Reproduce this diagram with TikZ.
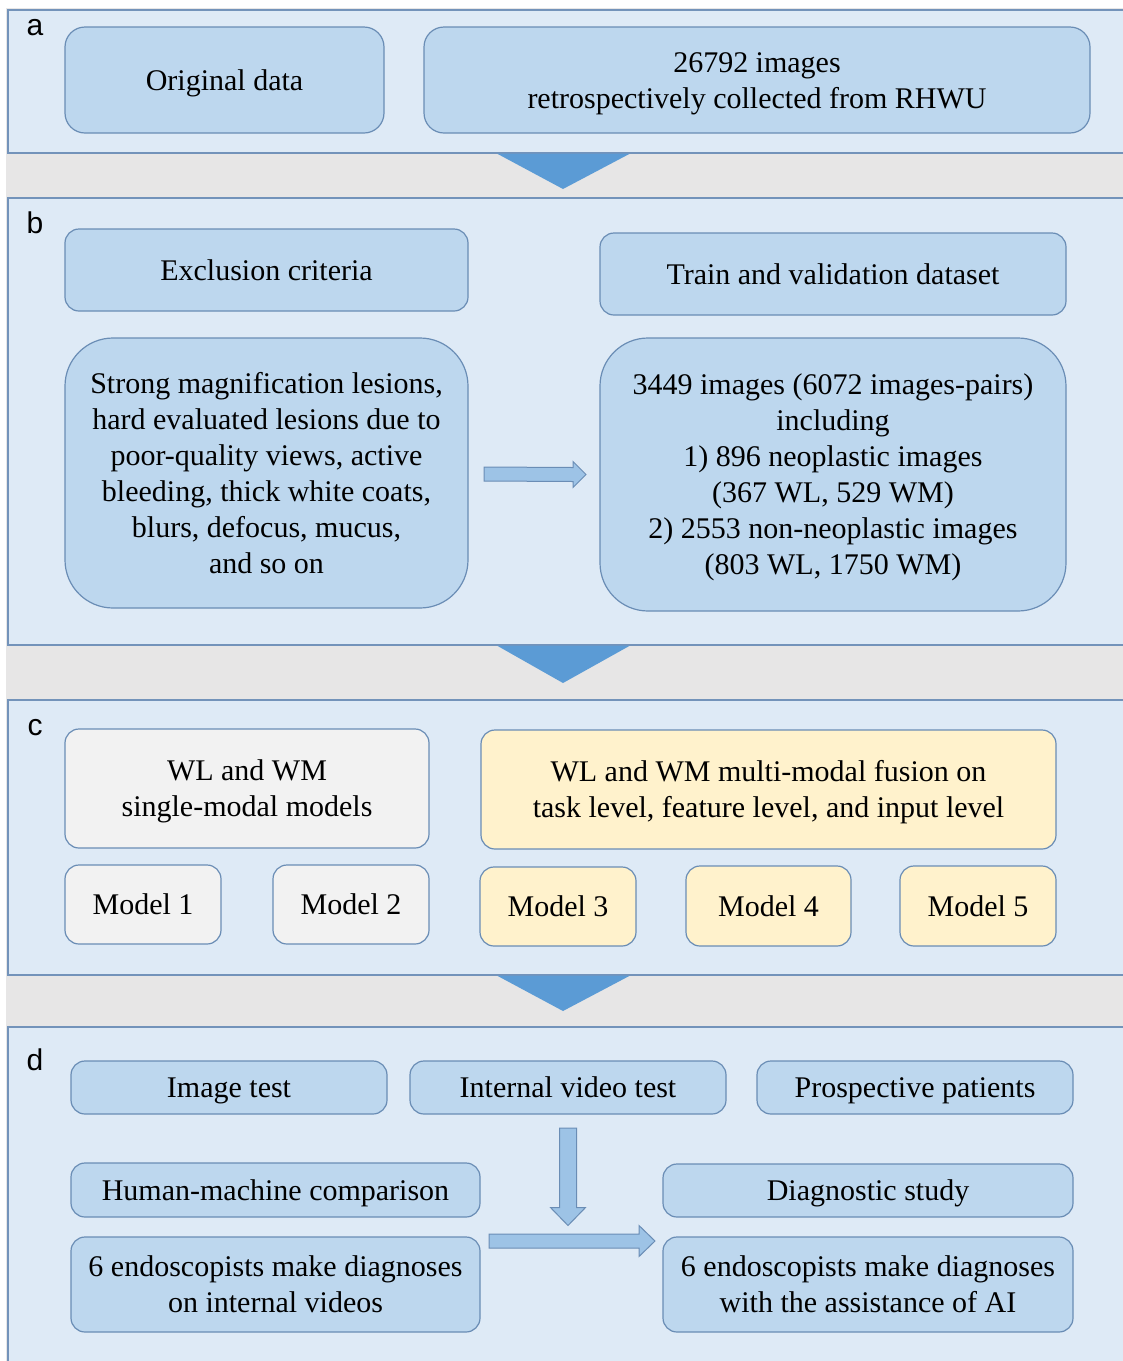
\documentclass[tikz,border=0pt]{standalone}
\usepackage{fontspec}
\IfFontExistsTF{LiberationSerif-Regular.ttf}{%
  \newfontfamily\boxfont{LiberationSerif-Regular.ttf}}{%
  \newfontfamily\boxfont{Liberation Serif}}
\newfontfamily\labelfont{Liberation Sans}
\usetikzlibrary{calc}
\definecolor{panelfill}{HTML}{DEEAF6}
\definecolor{panelline}{HTML}{7393BA}
\definecolor{gapgray}{HTML}{E7E6E6}
\definecolor{boxfill}{HTML}{BDD7EE}
\definecolor{boxline}{HTML}{6A8DB5}
\definecolor{grayfill}{HTML}{F2F2F2}
\definecolor{yellowfill}{HTML}{FFF2CC}
\definecolor{trifill}{HTML}{5B9BD5}
\definecolor{arrowfill}{HTML}{9DC3E6}
\tikzset{
  panel/.style={fill=panelfill, draw=panelline, line width=1.3pt},
  bx/.style={draw=boxline, line width=1.2pt, fill=boxfill, rounded corners=14pt,
    inner sep=0pt, outer sep=0pt, align=center,
    font=\boxfont\fontsize{30}{36}\selectfont},
  graybx/.style={bx, fill=grayfill},
  yellowbx/.style={bx, fill=yellowfill},
  plabel/.style={font=\labelfont\fontsize{30}{36}\selectfont, inner sep=0pt},
  tri/.style={fill=trifill},
  blockarrow/.style={fill=arrowfill, draw=boxline, line width=1pt, line join=miter},
}
% box from x1,y1 to x2,y2 (pixel coords); text lowered slightly
\newcommand{\pbox}[7]{%
  \node[#1, minimum width={(#5-#3)*1pt}, minimum height={(#6-#4)*1pt}] (#2)
    at ({(#3+#5)/2},{(#4+#6)/2})
    {\raisebox{-3pt}[\height][\depth]{\begin{tabular}{@{}c@{}}#7\end{tabular}}};}
\begin{document}
\begin{tikzpicture}[x=1pt,y=-1pt]
\useasboundingbox (0,0) rectangle (1123,1361);
\fill[white] (0,0) rectangle (1123,1361);
% gaps
\fill[gapgray] (6,8) rectangle (1123,1361);
% panels
\path[panel] (8,10) rectangle (1140,153);
\path[panel] (8,198) rectangle (1140,645);
\path[panel] (8,700) rectangle (1140,975);
\path[panel] (8,1027) rectangle (1140,1380);
% triangles
\coordinate (tA) at (563,189);
\coordinate (tB) at (563,683);
\coordinate (tC) at (563,1011);
\fill[tri] (497,153.6) -- (tA) -- (630,153.6) -- cycle;
\fill[tri] (497,645.6) -- (tB) -- (630,645.6) -- cycle;
\fill[tri] (497,975.6) -- (tC) -- (630,975.6) -- cycle;
% labels
\node[plabel] (la) at (35,28) {a};
\node[plabel] (lb) at (35,223) {b};
\node[plabel] (lc) at (35,728) {c};
\node[plabel] (ld) at (35,1060) {d};
% panel a
\pbox{bx, rounded corners=20pt}{orig}{65}{27}{384}{133}{Original data}
\pbox{bx, rounded corners=20pt}{imgs}{424}{27}{1090}{133}{26792 images\\retrospectively collected from RHWU}
% panel b
\pbox{bx}{excl}{65}{229}{468}{311}{Exclusion criteria}
\pbox{bx}{train}{600}{233}{1066}{315}{Train and validation dataset}
\pbox{bx, rounded corners=48pt}{exclT}{65}{338}{468}{608}{Strong magnification lesions,\\hard evaluated lesions due to\\poor-quality views, active\\bleeding, thick white coats,\\blurs, defocus, mucus,\\and so on}
\pbox{bx, rounded corners=48pt}{trainT}{600}{338}{1066}{611}{3449 images (6072 images-pairs)\\including\\1) 896 neoplastic images\\(367 WL, 529 WM)\\2) 2553 non-neoplastic images\\(803 WL, 1750 WM)}
\coordinate (bs) at ($(exclT.east)+(16,1)$);
\coordinate (be) at ($(trainT.west)+(-14,0)$);
\draw[blockarrow] ($(bs)+(0,-7)$) -- ($(be)+(-13,-7)$) -- ($(be)+(-13,-13)$) -- (be)
  -- ($(be)+(-13,13)$) -- ($(be)+(-13,7)$) -- ($(bs)+(0,7)$) -- cycle;
% panel c
\pbox{graybx}{single}{65}{729}{429}{848}{WL and WM\\single-modal models}
\pbox{yellowbx}{fusion}{481}{730}{1056}{849}{WL and WM multi-modal fusion on\\task level, feature level, and input level}
\pbox{graybx}{m1}{65}{865}{221}{944}{Model 1}
\pbox{graybx}{m2}{273}{865}{429}{944}{Model 2}
\pbox{yellowbx}{m3}{480}{867}{636}{946}{Model 3}
\pbox{yellowbx}{m4}{686}{866}{851}{946}{Model 4}
\pbox{yellowbx}{m5}{900}{866}{1056}{946}{Model 5}
% panel d
\pbox{bx}{imtest}{71}{1061}{387}{1114}{Image test}
\pbox{bx}{vidtest}{410}{1061}{726}{1114}{Internal video test}
\pbox{bx}{prosp}{757}{1061}{1073}{1114}{Prospective patients}
\pbox{bx}{hmc}{71}{1163}{480}{1217}{Human-machine comparison}
\pbox{bx}{diag}{663}{1164}{1073}{1217}{Diagnostic study}
\pbox{bx}{endoL}{71}{1237}{480}{1332}{6 endoscopists make diagnoses\\on internal videos}
\pbox{bx}{endoR}{663}{1237}{1073}{1332}{6 endoscopists make diagnoses\\with the assistance of AI}
% down arrow
\coordinate (ds) at ($(vidtest.south)+(0,14)$);
\coordinate (de) at (ds |- 0,1225.5);
\draw[blockarrow] ($(ds)+(-8.5,0)$) -- ($(de)+(-8.5,-18)$) -- ($(de)+(-17.5,-18)$) -- (de)
  -- ($(de)+(17.5,-18)$) -- ($(de)+(8.5,-18)$) -- ($(ds)+(8.5,0)$) -- cycle;
% horizontal arrow
\coordinate (hs) at ($(endoL.north east)+(9,4)$);
\coordinate (he) at ($(endoR.north west)+(-8,4)$);
\draw[blockarrow] ($(hs)+(0,-7)$) -- ($(he)+(-16,-7)$) -- ($(he)+(-16,-15.5)$) -- (he)
  -- ($(he)+(-16,15.5)$) -- ($(he)+(-16,7)$) -- ($(hs)+(0,7)$) -- cycle;
\end{tikzpicture}
\end{document}
